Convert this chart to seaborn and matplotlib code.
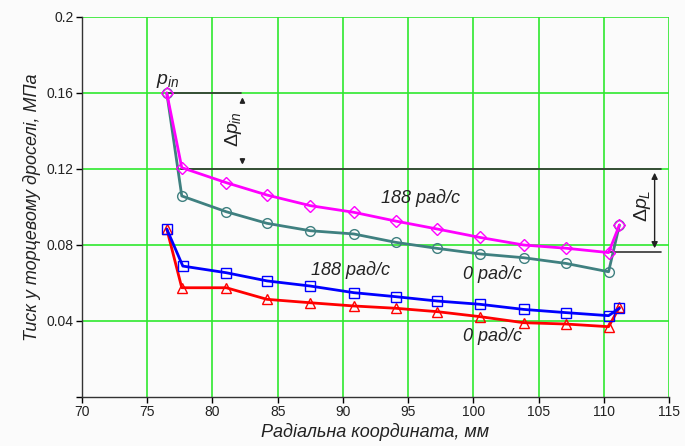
import matplotlib
matplotlib.use("Agg")
import matplotlib.pyplot as plt
import seaborn as sns
import pandas as pd

# Data
x_upper_188 = [76.5, 77.65, 81.06, 84.18, 87.5, 90.84, 94.04, 97.24, 100.49, 103.85, 107.1, 110.37, 111.2]
p_upper_188 = [0.160, 0.1207, 0.1128, 0.1063, 0.1007, 0.0972, 0.0926, 0.0884, 0.0840, 0.0800, 0.0783, 0.0760, 0.0905]

x_upper_0 = [76.5, 77.65, 81.06, 84.18, 87.5, 90.84, 94.04, 97.24, 100.49, 103.85, 107.1, 110.37, 111.2]
p_upper_0 = [0.160, 0.1058, 0.0975, 0.0914, 0.0875, 0.0858, 0.0814, 0.0782, 0.0753, 0.0733, 0.0703, 0.0659, 0.0905]

x_lower_188 = [76.5, 77.73, 81.06, 84.18, 87.5, 90.84, 94.04, 97.24, 100.49, 103.85, 107.1, 110.37, 111.2]
p_lower_188 = [0.0884, 0.0689, 0.0654, 0.0611, 0.0584, 0.0549, 0.0528, 0.0505, 0.0488, 0.0461, 0.0444, 0.0428, 0.0467]

x_lower_0 = [76.5, 77.65, 81.06, 84.18, 87.5, 90.84, 94.04, 97.24, 100.49, 103.85, 107.1, 110.37, 111.2]
p_lower_0 = [0.0884, 0.0575, 0.0575, 0.0514, 0.0496, 0.0479, 0.0467, 0.0449, 0.0423, 0.0391, 0.0384, 0.0370, 0.0472]

x_ticks = [70, 75, 80, 85, 90, 95, 100, 105, 110, 115]
y_ticks = [0.0, 0.04, 0.08, 0.12, 0.16, 0.2]
y_tick_labels = ["", "0.04", "0.08", "0.12", "0.16", "0.2"]

x_label = "Радіальна координата, мм"
y_label = "Тиск у торцевому дроселі, МПа"
series_labels = ["188 рад/с", "0 рад/с", "188 рад/с", "0 рад/с"]

sns.set_theme(style="white")
plt.rcParams["font.family"] = ["Liberation Sans", "DejaVu Sans"]
plt.rcParams["mathtext.fontset"] = "custom"
plt.rcParams["mathtext.it"] = "Liberation Sans:italic"
plt.rcParams["mathtext.rm"] = "Liberation Sans"

bg = "#fbfbfb"
fig = plt.figure(figsize=(6.85, 4.46), dpi=100, facecolor=bg)
ax = fig.add_axes([0.1197, 0.1099, 0.9766 - 0.1197, 0.9619 - 0.1099])
ax.set_facecolor(bg)

grid_c = "#2ee82e"
for xv in x_ticks[1:]:
    ax.axvline(xv, color=grid_c, lw=1.2, zorder=0)
for yv in y_ticks[1:]:
    ax.axhline(yv, color=grid_c, lw=1.2, zorder=0)

series = [
    (x_upper_188, p_upper_188, "#ff00ff", "D", 6),
    (x_upper_0, p_upper_0, "#3f8080", "o", 7),
    (x_lower_188, p_lower_188, "#0000ff", "s", 7.5),
    (x_lower_0, p_lower_0, "#ff0000", "^", 7.5),
]
# draw teal under magenta, red under blue like reference
order = [1, 0, 3, 2]
for i in order:
    xs, ys, c, m, ms = series[i]
    df = pd.DataFrame({"x": xs, "y": ys})
    sns.lineplot(data=df, x="x", y="y", ax=ax, color=c, lw=2.0, marker=m,
                 markersize=ms, markerfacecolor="none", markeredgecolor=c,
                 markeredgewidth=1.0, sort=False, estimator=None, zorder=3)

ax.set_xlim(70, 115)
ax.set_ylim(0, 0.2)
ax.set_xticks(x_ticks)
ax.set_xticklabels([str(v) for v in x_ticks])
ax.set_yticks(y_ticks)
ax.set_yticklabels(y_tick_labels)
ax.tick_params(axis="both", which="major", direction="out", length=4, width=1,
               color="black", labelsize=10, labelcolor="#222222", bottom=True, left=True, pad=2)
for s in ["top", "right"]:
    ax.spines[s].set_visible(False)
for s in ["left", "bottom"]:
    ax.spines[s].set_color("#333333")
    ax.spines[s].set_linewidth(1.0)
    ax.spines[s].set_zorder(4)

ax.set_xlabel(x_label, fontsize=13, fontstyle="italic", color="#222222", labelpad=3)
ax.set_ylabel(y_label, fontsize=13, fontstyle="italic", color="#222222", labelpad=4)

txt_kw = dict(fontsize=13, fontstyle="italic", color="#222222", ha="center", va="center")
ax.text(95.96, 0.1047, series_labels[0], **txt_kw)
ax.text(101.5, 0.0647, series_labels[1], **txt_kw)
ax.text(90.6, 0.0668, series_labels[2], **txt_kw)
ax.text(101.5, 0.0321, series_labels[3], **txt_kw)

# p_in annotation
ax.text(76.6, 0.1665, r"$p_{in}$", fontsize=14, color="#222222", ha="center", va="center")
ax.plot([76.5, 82.2], [0.16, 0.16], color="#333333", lw=1.2, zorder=2)
ax.plot([77.6, 114.4], [0.12, 0.12], color="#333333", lw=1.2, zorder=2)
ax.plot([110.4, 114.4], [0.0763, 0.0763], color="#333333", lw=1.2, zorder=2)

# delta p_in
ax.text(81.65, 0.141, r"$\Delta p_{in}$", fontsize=14, color="#222222", rotation=90,
        ha="center", va="center")
ax.annotate("", xy=(82.3, 0.1592), xytext=(82.3, 0.1535),
            arrowprops=dict(arrowstyle="-|>", color="#222222", lw=1.2, mutation_scale=7))
ax.annotate("", xy=(82.3, 0.1208), xytext=(82.3, 0.1265),
            arrowprops=dict(arrowstyle="-|>", color="#222222", lw=1.2, mutation_scale=7))

# delta p_L
ax.annotate("", xy=(113.9, 0.1195), xytext=(113.9, 0.0768),
            arrowprops=dict(arrowstyle="<|-|>", color="#222222", lw=1.0, mutation_scale=9))
ax.text(112.95, 0.1005, r"$\Delta p_L$", fontsize=14, color="#222222", rotation=90,
        ha="center", va="center")

fig.savefig("out.png", dpi=100, facecolor=bg)
